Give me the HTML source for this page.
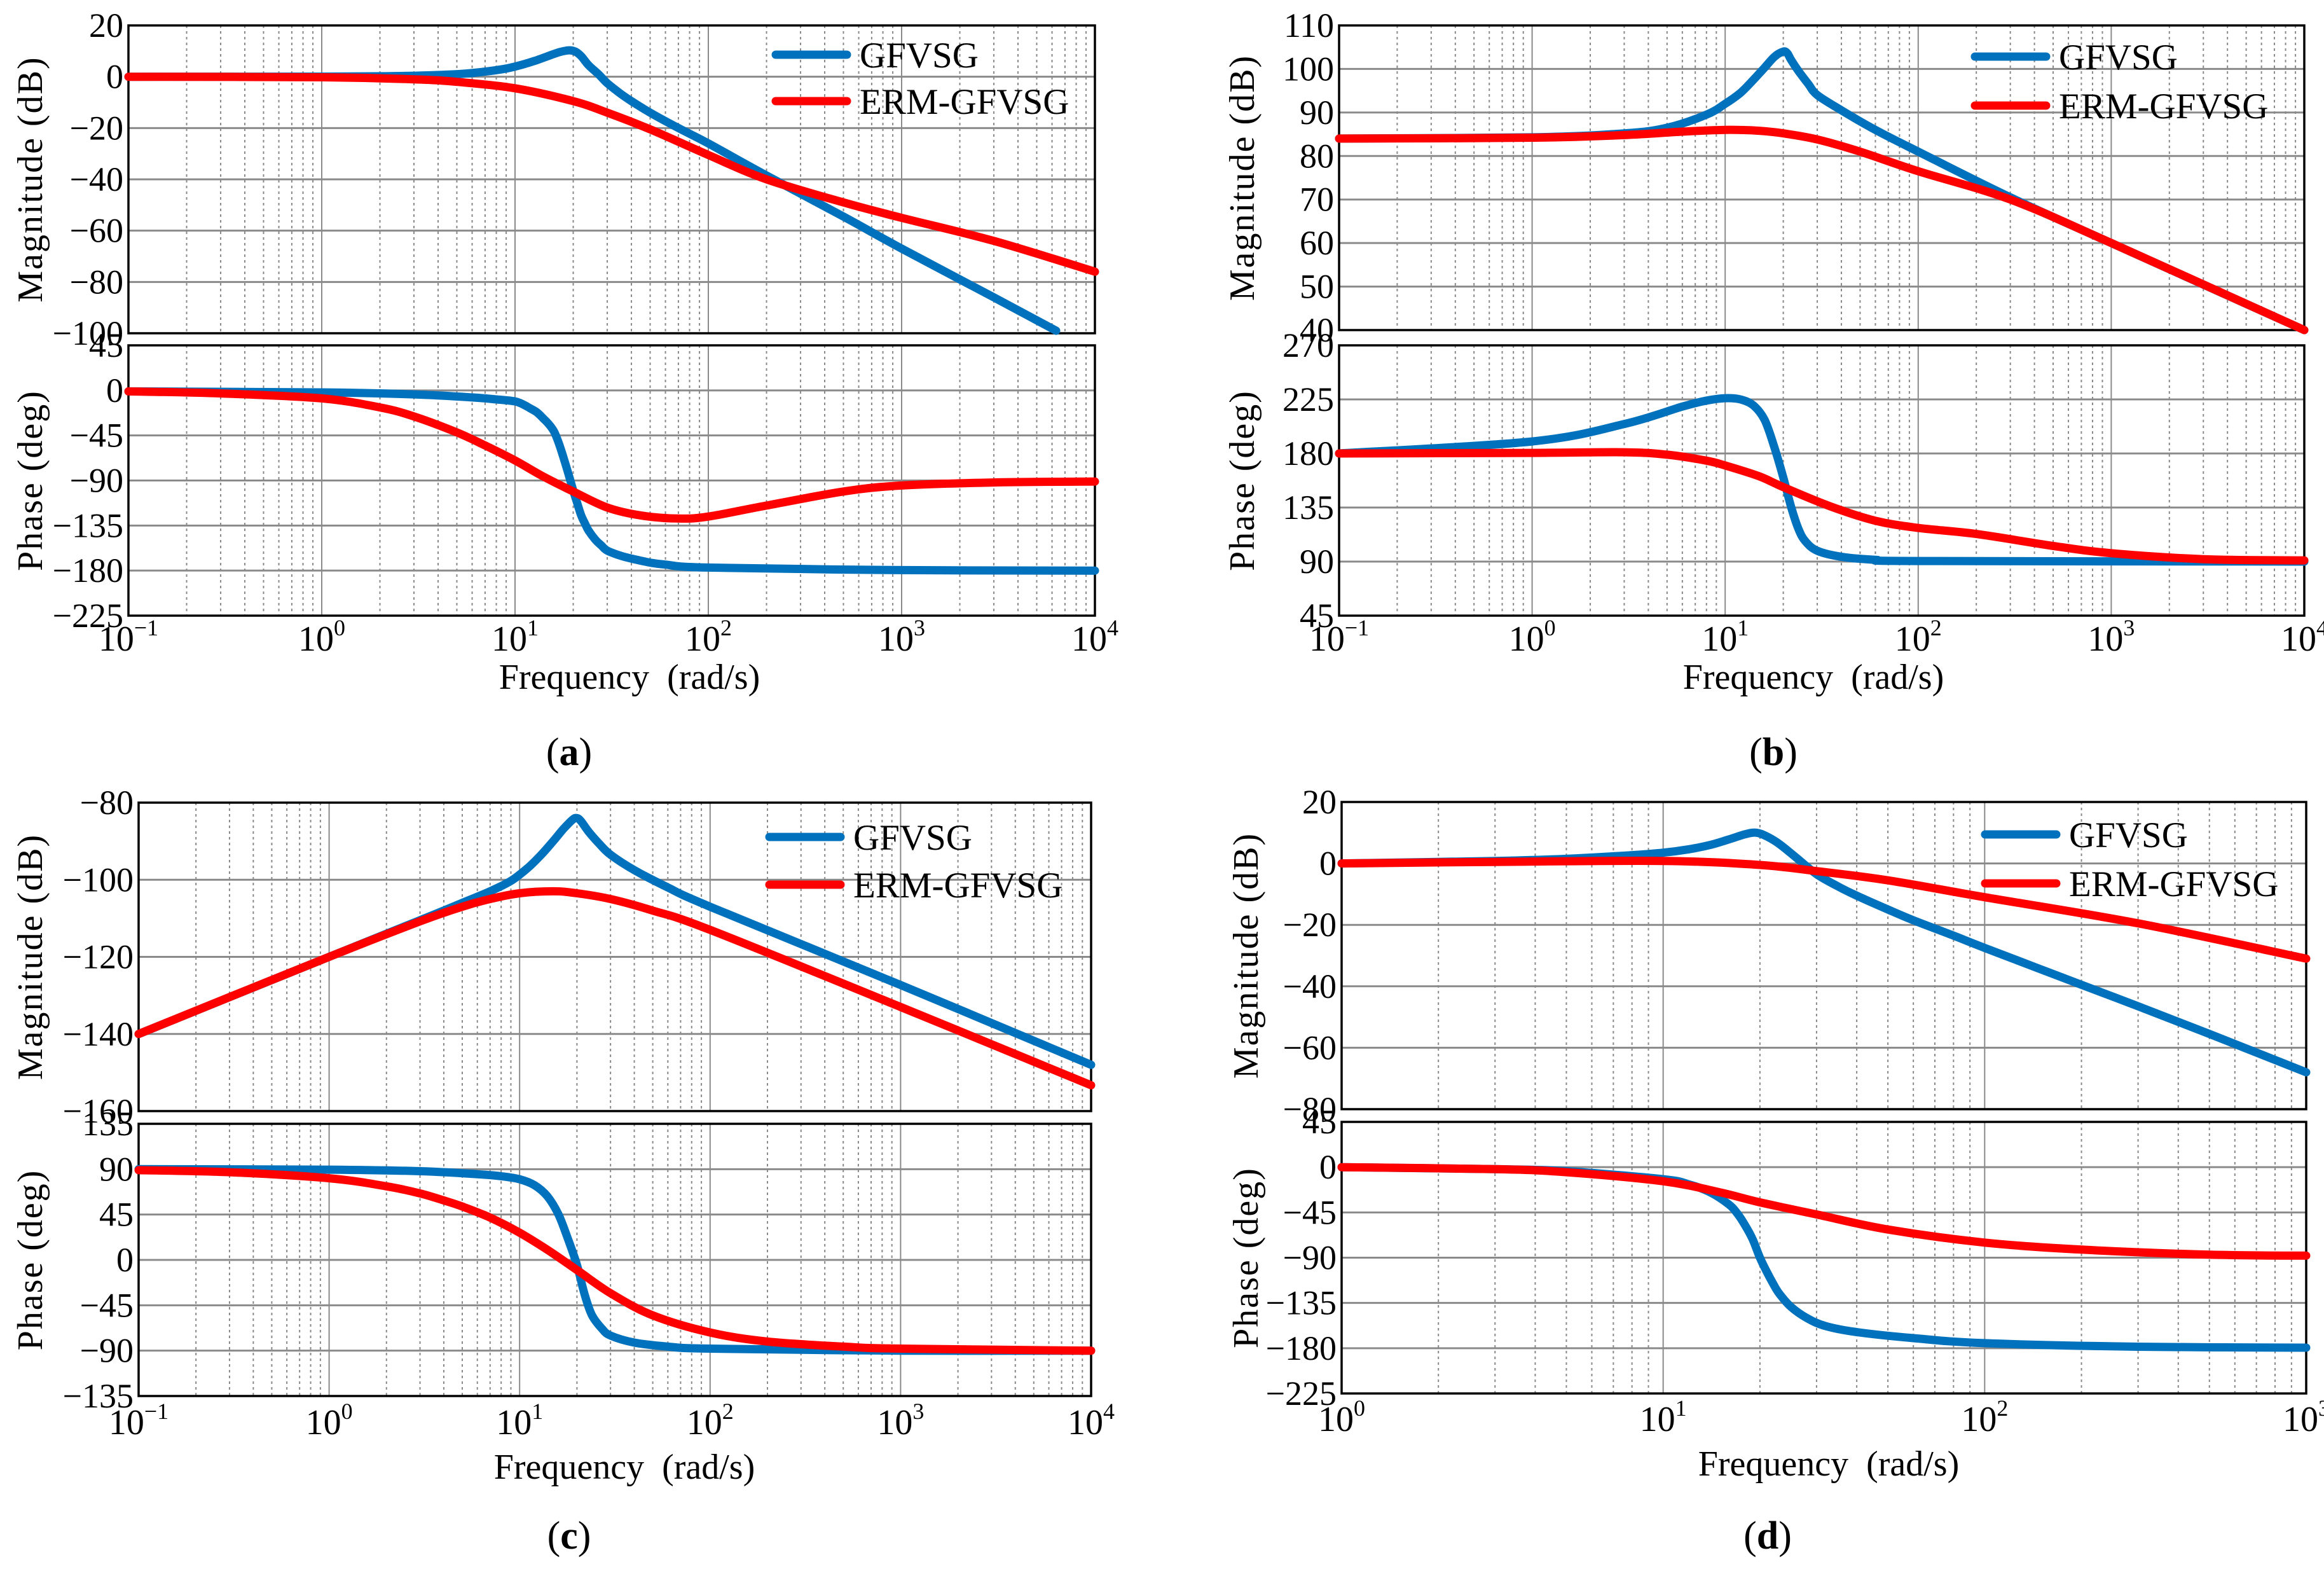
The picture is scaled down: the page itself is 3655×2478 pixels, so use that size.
<!DOCTYPE html>
<html><head><meta charset="utf-8">
<style>
html,body{margin:0;padding:0;background:#fff;}
svg{display:block;}
svg text{font-family:"Liberation Serif","Times New Roman",serif;}
</style></head>
<body>
<svg id="fig" width="3655" height="2478" viewBox="0 0 3655 2478" xmlns="http://www.w3.org/2000/svg"></svg>
<script>
// ---------- data ----------
const aMagBlueF=[0.1,1,2,3,5,7,9,11,13,15,17,19,20.5,22,24,27,30,35,40,50,70,100,200,500,1000,3000,6300];
const aMagBlueV=[0,0.05,0.2,0.4,1,2,3.2,4.8,6.5,8.2,9.6,10.3,9.8,8,4.5,1,-2.5,-6.5,-9.5,-14,-20,-26,-38.5,-54.5,-67,-86,-99];
const aMagRedF=[0.1,1,3,5,10,20,30,50,100,200,500,1000,3000,10000];
const aMagRedV=[0,-0.2,-1,-2,-4.5,-9.5,-14,-20.5,-30.5,-40,-49,-55,-64,-76];
const aPhBlueF=[0.1,1,3,6,8,10,11,12,13,14,15,16,17,18,19,20,21,22,23,24,26,28,30,35,40,50,60,100,1000,10000];
const aPhBlueV=[-1,-2,-4,-7,-9,-11,-14,-18,-22,-28,-34,-42,-55,-70,-85,-100,-113,-125,-133,-140,-149,-155,-160,-165,-168,-172,-174,-177,-179.5,-180];
const aPhRedF=[0.1,0.3,1,2,3,5,7,10,14,20,30,45,70,100,200,500,1000,3000,10000];
const aPhRedV=[-1,-3,-8,-17,-26,-42,-55,-70,-86,-101,-117,-125,-128,-126,-115,-101,-95,-92,-91];

const bMagBlueF=[0.1,1,3,5,8,10,12,14,16,18,20,21,22,24,27,30,40,60,100,300,1000,10000];
const bMagBlueV=[84,84.3,85.2,86.5,89.5,92,94.5,97.5,100.3,102.8,104,103.6,102,99.5,96.5,94,90.5,86,81,70.5,60,40];
const bMagRedF=[0.1,1,3,6,10,15,20,30,50,100,300,1000,10000];
const bMagRedV=[84,84.2,84.8,85.6,86,85.8,85.2,83.8,81,76.5,70,60,40];
const bPhBlueF=[0.1,1,3,6,8,10,12,14,16,18,20,22,24,26,30,40,60,100,10000];
const bPhBlueV=[180,190,204.5,219,224,226,225,220,208,185,160,135,117,107,99,94,91.5,90.5,90];
const bPhRedF=[0.1,1,3,5,8,10,15,20,35,60,100,200,500,1000,3000,10000];
const bPhRedV=[180,180.5,181,179,174,170,161,152,136,124,118,113,103,97,92,91];

const cMagBlueF=[0.1,1,3,5,7,9,11,13,15,17,19,20,21,23,26,30,40,60,100,1000,10000];
const cMagBlueV=[-140,-120,-110.5,-106,-103,-100.3,-97,-93.5,-90,-86.8,-84.4,-84,-84.8,-87.5,-90.5,-93.5,-97.5,-102,-107,-127.3,-148];
const cMagRedF=[0.1,1,3,5,7,10,15,20,30,50,100,1000,10000];
const cMagRedV=[-140,-120,-110.8,-107,-105,-103.5,-103,-103.5,-105,-108,-113,-133,-153.3];
const cPhBlueF=[0.1,1,3,6,8,10,12,14,16,18,20,22,24,27,30,40,60,100,1000,10000];
const cPhBlueV=[90,89.5,88,85,83,80,74,63,45,20,-5,-35,-55,-68,-75,-82,-86,-88,-90,-90];
const cPhRedF=[0.1,0.3,1,2,3,4,5,7,10,14,20,30,50,100,200,500,1000,10000];
const cPhRedV=[89,87,81,73,66,59,53,42,27,10,-10,-33,-55,-72,-81,-86,-88,-90];

const dMagBlueF=[1,3,5,8,10,12,14,16,18,19.5,21,23,26,30,35,40,50,60,80,100,200,300,500,1000];
const dMagBlueV=[0,0.8,1.5,2.7,3.5,4.6,6,7.8,9.5,10,8.8,6.3,1.8,-3.5,-7.5,-10.5,-15,-18.5,-23.5,-27.5,-39.5,-46.5,-55.5,-68];
const dMagRedF=[1,3,10,20,30,50,100,300,1000];
const dMagRedV=[0,0.5,0.8,-0.5,-2.5,-5.5,-11,-19.5,-31];
const dPhBlueF=[1,3,5,10,12,14,16,17,18,19,20,21,22,23,25,28,32,40,60,100,300,1000];
const dPhBlueV=[0,-2,-4,-12,-17,-25,-37,-46,-58,-72,-90,-104,-116,-126,-139,-150,-158,-164,-170,-175,-178.5,-179.5];
const dPhRedF=[1,3,5,10,15,20,30,50,100,200,500,1000];
const dPhRedV=[0,-2,-5,-14,-25,-35,-47,-62,-75,-82,-87,-88];

const aMagTicks=[20,0,-20,-40,-60,-80,-100];
const aPhTicks=[45,0,-45,-90,-135,-180,-225];
const bMagTicks=[110,100,90,80,70,60,50,40];
const bPhTicks=[270,225,180,135,90,45];
const cMagTicks=[-80,-100,-120,-140,-160];
const cPhTicks=[135,90,45,0,-45,-90,-135];
const dMagTicks=[20,0,-20,-40,-60,-80];
const dPhTicks=[45,0,-45,-90,-135,-180,-225];
const abcDecades=[-1,0,1,2,3,4];
const dDecades=[0,1,2,3];
const seriesNames=["GFVSG","ERM-GFVSG"];

// ---------- drawing ----------
const NS="http://www.w3.org/2000/svg";
const svg=document.getElementById('fig');
const BLUE="#0072bd", RED="#ff0000";
const FONT='"Liberation Serif", serif';
function mk(tag,parent){const e=document.createElementNS(NS,tag);if(tag==='text')e.setAttribute('font-family',FONT);parent.appendChild(e);return e;}
function fmt(v){return v<0?"\u2212"+Math.abs(v):String(v);}

function smoothPath(pts){
  let d="M"+pts[0][0].toFixed(1)+","+pts[0][1].toFixed(1);
  for(let i=0;i<pts.length-1;i++){
    const p0=pts[Math.max(0,i-1)],p1=pts[i],p2=pts[i+1],p3=pts[Math.min(pts.length-1,i+2)];
    const c1=[p1[0]+(p2[0]-p0[0])/6,p1[1]+(p2[1]-p0[1])/6];
    const c2=[p2[0]-(p3[0]-p1[0])/6,p2[1]-(p3[1]-p1[1])/6];
    d+=" C"+c1[0].toFixed(1)+","+c1[1].toFixed(1)+" "+c2[0].toFixed(1)+","+c2[1].toFixed(1)+" "+p2[0].toFixed(1)+","+p2[1].toFixed(1);
  }
  return d;
}

function axesBox(g,cfg,top,bot,ymin,ymax,ticks,title,prefix){
  const L=cfg.left,R=cfg.right;
  const xs=f=>L+(Math.log10(f)-cfg.d0)/(cfg.d1-cfg.d0)*(R-L);
  const ys=v=>bot-(v-ymin)/(ymax-ymin)*(bot-top);
  for(let dec=cfg.d0;dec<cfg.d1;dec++){
    for(let k=2;k<=9;k++){
      const x=xs(k*Math.pow(10,dec));
      const l=mk('line',g);
      
      
      l.setAttribute('x1',x);l.setAttribute('x2',x);l.setAttribute('y1',top);l.setAttribute('y2',bot);
      l.setAttribute('stroke','#8a8a8a');l.setAttribute('stroke-width','2');l.setAttribute('stroke-dasharray','4,5');
    }
  }
  for(let dec=cfg.d0+1;dec<cfg.d1;dec++){
    const x=xs(Math.pow(10,dec));
    const l=mk('line',g);
    
    
    l.setAttribute('x1',x);l.setAttribute('x2',x);l.setAttribute('y1',top);l.setAttribute('y2',bot);
    l.setAttribute('stroke','#8a8a8a');l.setAttribute('stroke-width','2');
  }
  ticks.forEach(t=>{
    const y=ys(t);
    if(y>top+2&&y<bot-2){
      const l=mk('line',g);
      
      
      l.setAttribute('x1',L);l.setAttribute('x2',R);l.setAttribute('y1',y);l.setAttribute('y2',y);
      l.setAttribute('stroke','#8a8a8a');l.setAttribute('stroke-width','3');
    }
    const tx=mk('text',g);
    
    
    tx.setAttribute('x',L-8);tx.setAttribute('y',y+18);tx.setAttribute('text-anchor','end');
    tx.setAttribute('font-size','54');tx.textContent=fmt(t);
  });
  const r=mk('rect',g);
  
  
  r.setAttribute('x',L);r.setAttribute('y',top);r.setAttribute('width',R-L);r.setAttribute('height',bot-top);
  r.setAttribute('fill','none');r.setAttribute('stroke','#000');r.setAttribute('stroke-width','3.5');
  const tt=mk('text',g);
  
  
  const cy=(top+bot)/2;
  tt.setAttribute('x',cfg.titleX);tt.setAttribute('y',cy);
  tt.setAttribute('transform','rotate(-90 '+cfg.titleX+' '+cy+')');
  tt.setAttribute('text-anchor','middle');tt.setAttribute('font-size','56');tt.setAttribute('letter-spacing','2');
  tt.textContent=title;
  return {xs,ys};
}

function drawSeries(g,sc,F,V,color,name){
  const pts=F.map((f,i)=>[sc.xs(f),sc.ys(V[i])]);
  const p=mk('path',g);
  
  
  p.setAttribute('d',smoothPath(pts));
  p.setAttribute('fill','none');p.setAttribute('stroke',color);p.setAttribute('stroke-width','13');
  p.setAttribute('stroke-linecap','round');p.setAttribute('stroke-linejoin','round');
}

function panel(cfg){
  const g=mk('g',svg);
  
  
  const m=axesBox(g,cfg,cfg.magTop,cfg.magBot,cfg.magMin,cfg.magMax,cfg.magTicks,"Magnitude (dB)",cfg.id+'-magnitude');
  drawSeries(g,m,cfg.magBF,cfg.magBV,BLUE,cfg.id+'-magnitude-gfvsg-line');
  drawSeries(g,m,cfg.magRF,cfg.magRV,RED,cfg.id+'-magnitude-erm-gfvsg-line');
  const p=axesBox(g,cfg,cfg.phTop,cfg.phBot,cfg.phMin,cfg.phMax,cfg.phTicks,"Phase (deg)",cfg.id+'-phase');
  drawSeries(g,p,cfg.phBF,cfg.phBV,BLUE,cfg.id+'-phase-gfvsg-line');
  drawSeries(g,p,cfg.phRF,cfg.phRV,RED,cfg.id+'-phase-erm-gfvsg-line');
  cfg.decades.forEach(dec=>{
    const x=p.xs(Math.pow(10,dec));
    const t=mk('text',g);
    
    
    t.setAttribute('x',x);t.setAttribute('y',cfg.tickY);t.setAttribute('text-anchor','middle');t.setAttribute('font-size','56');
    const a=mk('tspan',t);a.textContent="10";
    const b=mk('tspan',t);b.setAttribute('dy','-24');b.setAttribute('font-size','36');b.textContent=fmt(dec);
  });
  const fl=mk('text',g);
  
  
  fl.setAttribute('x',cfg.freqX);fl.setAttribute('y',cfg.freqY);fl.setAttribute('text-anchor','middle');fl.setAttribute('font-size','56');
  fl.textContent="Frequency\u00a0\u00a0(rad/s)";
  const lg=mk('g',g);
  
  
  [[BLUE,cfg.legY1],[RED,cfg.legY2]].forEach((e,i)=>{
    const l=mk('line',lg);
    
    
    l.setAttribute('x1',cfg.legX);l.setAttribute('x2',cfg.legX+112);l.setAttribute('y1',e[1]);l.setAttribute('y2',e[1]);
    l.setAttribute('stroke',e[0]);l.setAttribute('stroke-width','13');l.setAttribute('stroke-linecap','round');
    const t=mk('text',lg);
    
    
    t.setAttribute('x',cfg.legX+132);t.setAttribute('y',e[1]+20);t.setAttribute('font-size','57');
    t.textContent=seriesNames[i];
  });
  const cap=mk('text',g);
  
  
  cap.setAttribute('x',cfg.capX);cap.setAttribute('y',cfg.capY);cap.setAttribute('text-anchor','middle');cap.setAttribute('font-size','62');
  const c1=mk('tspan',cap);c1.textContent="(";
  const c2=mk('tspan',cap);c2.setAttribute('font-weight','bold');c2.textContent=cfg.id;
  const c3=mk('tspan',cap);c3.textContent=")";
}

panel({id:'a',left:202,right:1722,d0:-1,d1:4,decades:abcDecades,titleX:66,
  magTop:40,magBot:524,magMin:-100,magMax:20,magTicks:aMagTicks,
  phTop:543,phBot:968,phMin:-225,phMax:45,phTicks:aPhTicks,
  magBF:aMagBlueF,magBV:aMagBlueV,magRF:aMagRedF,magRV:aMagRedV,
  phBF:aPhBlueF,phBV:aPhBlueV,phRF:aPhRedF,phRV:aPhRedV,
  tickY:1023,freqX:990,freqY:1083,legX:1220,legY1:86,legY2:159,capX:895,capY:1203});
panel({id:'b',left:2106,right:3624,d0:-1,d1:4,decades:abcDecades,titleX:1972,
  magTop:40,magBot:519,magMin:40,magMax:110,magTicks:bMagTicks,
  phTop:543,phBot:968,phMin:45,phMax:270,phTicks:bPhTicks,
  magBF:bMagBlueF,magBV:bMagBlueV,magRF:bMagRedF,magRV:bMagRedV,
  phBF:bPhBlueF,phBV:bPhBlueV,phRF:bPhRedF,phRV:bPhRedV,
  tickY:1023,freqX:2852,freqY:1083,legX:3106,legY1:89,legY2:166,capX:2789,capY:1203});
panel({id:'c',left:218,right:1716,d0:-1,d1:4,decades:abcDecades,titleX:66,
  magTop:1262,magBot:1747,magMin:-160,magMax:-80,magTicks:cMagTicks,
  phTop:1767,phBot:2195,phMin:-135,phMax:135,phTicks:cPhTicks,
  magBF:cMagBlueF,magBV:cMagBlueV,magRF:cMagRedF,magRV:cMagRedV,
  phBF:cPhBlueF,phBV:cPhBlueV,phRF:cPhRedF,phRV:cPhRedV,
  tickY:2255,freqX:982,freqY:2325,legX:1210,legY1:1316,legY2:1391,capX:895,capY:2435});
panel({id:'d',left:2110,right:3627,d0:0,d1:3,decades:dDecades,titleX:1978,
  magTop:1261,magBot:1744,magMin:-80,magMax:20,magTicks:dMagTicks,
  phTop:1764,phBot:2191,phMin:-225,phMax:45,phTicks:dPhTicks,
  magBF:dMagBlueF,magBV:dMagBlueV,magRF:dMagRedF,magRV:dMagRedV,
  phBF:dPhBlueF,phBV:dPhBlueV,phRF:dPhRedF,phRV:dPhRedV,
  tickY:2250,freqX:2876,freqY:2320,legX:3122,legY1:1312,legY2:1389,capX:2780,capY:2435});
</script>
</body></html>
